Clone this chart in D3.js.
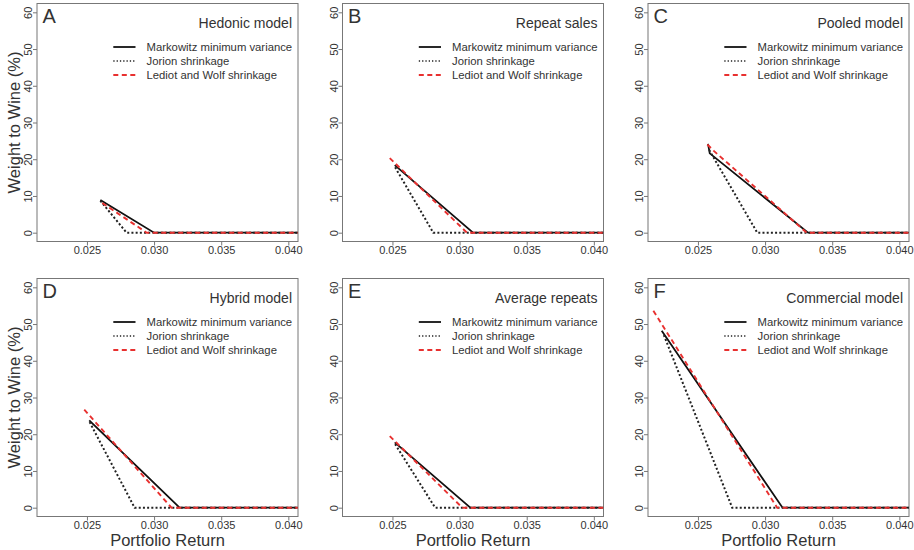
<!DOCTYPE html>
<html>
<head>
<meta charset="utf-8">
<script src="https://cdnjs.cloudflare.com/ajax/libs/d3/7.8.5/d3.min.js"></script>
<style>
body{margin:0;background:#fff;}
svg text{font-family:"Liberation Sans",Arial,Helvetica,sans-serif;fill:#333;}
</style>
</head>
<body>
<div class="chart"></div>
<script>
var letters=['A','B','C','D','E','F'];
var titles=['Hedonic model','Repeat sales','Pooled model','Hybrid model','Average repeats','Commercial model'];
var legendLabels=['Markowitz minimum variance','Jorion shrinkage','Lediot and Wolf shrinkage'];
var xTicks=[0.025,0.030,0.035,0.040];
var yTicks=[0,10,20,30,40,50,60];

// [portfolio return, weight %] per panel A..F
var markowitz=[
    [[0.0260,8.9],[0.0300,0],[0.0407,0]],
    [[0.02517,18.4],[0.0310,0],[0.0407,0]],
    [[0.02575,24.2],[0.02588,21.6],[0.0332,0],[0.0407,0]],
    [[0.02517,23.8],[0.0319,0],[0.0407,0]],
    [[0.02517,17.8],[0.0308,0],[0.0407,0]],
    [[0.0223,48.2],[0.0313,0],[0.0407,0]]
];
var jorion=[
    [[0.0260,8.7],[0.02795,0],[0.0407,0]],
    [[0.0252,17.8],[0.02804,0],[0.0407,0]],
    [[0.02584,22.5],[0.02942,0],[0.0407,0]],
    [[0.0252,23.3],[0.02855,0],[0.0407,0]],
    [[0.0252,17.3],[0.02818,0],[0.0407,0]],
    [[0.02246,47],[0.02755,0],[0.0407,0]]
];
var ledoitWolf=[
    [[0.02614,8.1],[0.02945,0],[0.0407,0]],
    [[0.0248,20.3],[0.03055,0],[0.0407,0]],
    [[0.0257,24.0],[0.0262,22.2],[0.0331,0],[0.0407,0]],
    [[0.0248,26.7],[0.0313,0],[0.0407,0]],
    [[0.0248,19.5],[0.0302,0],[0.0407,0]],
    [[0.02168,53.6],[0.0309,0],[0.0407,0]]
];

var styles=[
    {color:'#111',width:1.8,dash:null},
    {color:'#222',width:2,dash:'2,2.2'},
    {color:'#e8302f',width:1.9,dash:'5,3.5'}
];

var plotW=261, plotH=238, colStep=305.5, rowStep=275, left0=37, top0=3.5;

function drawCharts(){
    var svg=d3.select('.chart')
        .append('svg')
        .attr('width',914)
        .attr('height',550);

    var x=d3.scaleLinear().domain([0.02128,0.04072]).range([0,plotW]);
    var y=d3.scaleLinear().domain([-2.4,62.4]).range([plotH,0]);
    var line=d3.line().x(function(d){return x(d[0]);}).y(function(d){return y(d[1]);});

    for (var i=0;i<6;i++){
        var col=i%3, row=Math.floor(i/3);
        var g=svg.append('g')
            .attr('transform','translate('+(left0+col*colStep)+','+(top0+row*rowStep)+')');

        g.append('clipPath').attr('id','clip'+i)
            .append('rect').attr('width',plotW).attr('height',plotH);

        // x axis
        var xa=g.append('g')
            .attr('transform','translate(0,'+plotH+')')
            .call(d3.axisBottom(x).tickValues(xTicks).tickFormat(d3.format('.3f')).tickSize(4).tickPadding(0.5));
        xa.select('.domain').remove();
        xa.selectAll('line').attr('stroke','#777');
        xa.selectAll('text').style('font-size','11px').attr('fill','#333');

        // y axis, labels rotated like R
        var ya=g.append('g')
            .call(d3.axisLeft(y).tickValues(yTicks).tickSize(4));
        ya.select('.domain').remove();
        ya.selectAll('line').attr('stroke','#777');
        ya.selectAll('text')
            .attr('x',0).attr('dy',null)
            .attr('text-anchor','middle')
            .attr('transform','translate(-4.8,0) rotate(-90)')
            .style('font-size','11px').attr('fill','#333');

        g.append('rect')
            .attr('width',plotW).attr('height',plotH)
            .attr('fill','none').attr('stroke','#777').attr('stroke-width',1);

        var series=[markowitz[i],jorion[i],ledoitWolf[i]];
        var lines=g.append('g').attr('clip-path','url(#clip'+i+')');
        series.forEach(function(s,k){
            lines.append('path')
                .attr('d',line(s))
                .attr('fill','none')
                .attr('stroke',styles[k].color)
                .attr('stroke-width',styles[k].width)
                .attr('stroke-dasharray',styles[k].dash);
        });

        g.append('text').attr('x',5.5).attr('y',19.5)
            .style('font-size','20px').text(letters[i]);
        g.append('text').attr('x',plotW-6).attr('y',24.5)
            .attr('text-anchor','end')
            .style('font-size','14px').text(titles[i]);

        // legend
        legendLabels.forEach(function(lab,k){
            var ly=43.5+k*14;
            g.append('line')
                .attr('x1',76.3).attr('x2',98.5)
                .attr('y1',ly).attr('y2',ly)
                .attr('stroke',styles[k].color)
                .attr('stroke-width',k==1?1.4:styles[k].width)
                .attr('stroke-dasharray',k==1?'1.3,2':styles[k].dash);
            g.append('text')
                .attr('x',109.5).attr('y',ly+4)
                .style('font-size','11.3px').text(lab);
        });

        if (col==0){
            g.append('text')
                .attr('transform','translate(-17.5,'+(plotH/2)+') rotate(-90)')
                .attr('text-anchor','middle')
                .style('font-size','16.5px').text('Weight to Wine (%)');
        }
        if (row==1){
            g.append('text')
                .attr('x',plotW/2).attr('y',267.9)
                .attr('text-anchor','middle')
                .style('font-size','16.5px').text('Portfolio Return');
        }
    }
}
drawCharts();
</script>
</body>
</html>
